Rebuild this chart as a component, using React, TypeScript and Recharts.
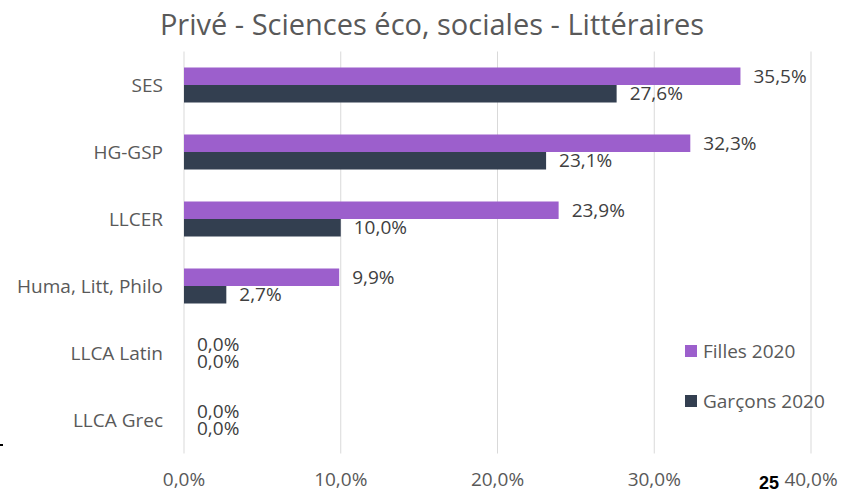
import React from 'react';
import { BarChart, Bar, XAxis, YAxis, CartesianGrid, LabelList, Legend } from 'recharts';

const categories = ['SES', 'HG-GSP', 'LLCER', 'Huma, Litt, Philo', 'LLCA Latin', 'LLCA Grec'];
const filles2020 = [35.5, 32.3, 23.9, 9.9, 0, 0];
const garcons2020 = [27.6, 23.1, 10.0, 2.7, 0, 0];
const xTicks = [0, 10, 20, 30, 40];
const seriesNames = { filles: 'Filles 2020', garcons: 'Garçons 2020' };
const title = 'Privé - Sciences éco, sociales - Littéraires';
const pageNumber = '25';

const data = categories.map((c, i) => ({ name: c, filles: filles2020[i], garcons: garcons2020[i] }));
const fmt = (v: number) => Number(v).toFixed(1).replace('.', ',') + '%';

const FONT = "'Open Sans', sans-serif";
const PURPLE = '#9C5FCC';
const DARK = '#333F50';
const FS = 19;

const LegendContent = (props: any) => {
  const payload = props.payload || [];
  return (
    <div style={{ fontFamily: FONT }}>
      {payload.map((p: any, i: number) => (
        <div key={i} style={{ display: 'flex', alignItems: 'center', height: 12, marginBottom: 38 }}>
          <div style={{ width: 12, height: 12, background: p.color, marginRight: 6 }} />
          <span style={{ fontSize: FS, color: '#595959', whiteSpace: 'nowrap' }}>{p.value}</span>
        </div>
      ))}
    </div>
  );
};

const tinySize = () => 0.01;

export default function App() {
  return (
    <div style={{ position: 'absolute', left: 0, top: 0, width: 841, height: 492, background: '#fff', fontFamily: FONT }}>
      <BarChart
        width={841}
        height={492}
        data={data}
        layout="vertical"
        margin={{ top: 51.5, right: 30, bottom: 0, left: 0 }}
        barGap={0}
        style={{ fontFamily: FONT }}
      >
        <CartesianGrid horizontal={false} stroke="#D9D9D9" />
        <XAxis
          type="number"
          domain={[0, 40]}
          ticks={xTicks}
          tickFormatter={fmt}
          axisLine={false}
          tickLine={false}
          tickSize={0}
          tickMargin={19.5}
          height={38.5}
          tick={{ fill: '#595959', fontSize: FS, fontFamily: FONT }}
          interval={0}
        />
        <YAxis
          type="category"
          dataKey="name"
          width={184}
          axisLine={false}
          tickLine={false}
          tickSize={0}
          tickMargin={21}
          tick={{ fill: '#595959', fontSize: FS, fontFamily: FONT }}
          interval={0}
        />
        <Legend
          layout="vertical"
          align="center"
          verticalAlign="middle"
          content={<LegendContent />}
          wrapperStyle={{ left: 685, top: 345, width: 156 }}
        />
        <Bar dataKey="filles" name={seriesNames.filles} fill={PURPLE} barSize={17.5} minPointSize={tinySize as any} isAnimationActive={false}>
          <LabelList dataKey="filles" position="right" offset={13} formatter={fmt as any} fill="#404040" fontSize={FS} fontFamily={FONT} />
        </Bar>
        <Bar dataKey="garcons" name={seriesNames.garcons} fill={DARK} barSize={17.5} minPointSize={tinySize as any} isAnimationActive={false}>
          <LabelList dataKey="garcons" position="right" offset={13} formatter={fmt as any} fill="#404040" fontSize={FS} fontFamily={FONT} />
        </Bar>
      </BarChart>
      <svg width={841} height={492} style={{ position: 'absolute', left: 0, top: 0, pointerEvents: 'none' }}>
        <text x={432} y={35} textAnchor="middle" fill="#595959" fontSize={29} fontFamily={FONT}>{title}</text>
        <text x={769} y={489} textAnchor="middle" fill="#000" fontSize={18} fontWeight="bold" fontFamily="'Liberation Sans', Arial, sans-serif">{pageNumber}</text>
        <rect x={0} y={444} width={3} height={2} fill="#000" />
      </svg>
    </div>
  );
}
